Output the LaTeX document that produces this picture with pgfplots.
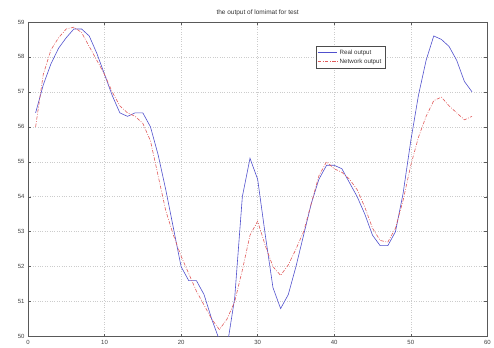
\documentclass[border=0pt]{standalone}
\usepackage{fontspec}
\setmainfont{Liberation Sans}
\usepackage{pgfplots}
\pgfplotsset{compat=1.18}
\definecolor{realblue}{RGB}{80,80,205}
\definecolor{netred}{RGB}{225,90,90}
\begin{document}
\begin{tikzpicture}
\begin{axis}[
  scale only axis,
  width=460pt, height=315pt,
  xmin=0, xmax=60, ymin=50, ymax=59,
  xtick={0,10,...,60}, ytick={50,51,...,59},
  grid=major,
  major grid style={gray!40, dotted, line width=0.5pt},
  axis line style={black!65, line width=0.5pt},
  tick style={black!65, line width=0.4pt},
  tick align=inside, major tick length=3pt,
  xtick pos=both, ytick pos=both,
  tick label style={font=\fontsize{6}{7}\selectfont, text=black!75},
  /pgf/number format/assume math mode=true,
  title={\fontsize{6.5}{7.5}\selectfont the output of lomimat for test},
  title style={yshift=-3pt, text=black!80},
  clip=true,
  legend style={at={(rel axis cs:0.626,0.924)}, anchor=north west,
    font=\fontsize{6.2}{7}\selectfont, draw=black!70, line width=0.4pt,
    inner sep=1.5pt, row sep=-1pt, text=black!80},
  legend cell align=left,
  legend image code/.code={\draw[#1] (0cm,0cm) -- (0.7cm,0cm);},
]
\addplot[realblue, line width=0.6pt] coordinates {
(1,56.4)(2,57.2)(3,57.8)(4,58.25)(5,58.55)(6,58.8)(7,58.8)(8,58.6)(9,58.1)(10,57.5)
(11,56.9)(12,56.4)(13,56.3)(14,56.4)(15,56.4)(16,56.0)(17,55.2)(18,54.2)(19,53.1)(20,52.0)
(21,51.6)(22,51.6)(23,51.2)(24,50.5)(25,49.9)(26,49.7)(27,51.1)(28,54.0)(29,55.1)(30,54.5)
(31,52.9)(32,51.4)(33,50.8)(34,51.2)(35,52.0)(36,52.9)(37,53.8)(38,54.5)(39,54.9)(40,54.9)
(41,54.8)(42,54.4)(43,54.0)(44,53.5)(45,52.9)(46,52.6)(47,52.6)(48,53.0)(49,54.1)(50,55.6)
(51,56.9)(52,57.9)(53,58.6)(54,58.5)(55,58.3)(56,57.9)(57,57.3)(58,57.0)
};
\addlegendentry{Real output}
\addplot[netred, line width=0.6pt, dash pattern=on 3.5pt off 1.5pt on 0.8pt off 1.5pt] coordinates {
(1,56.0)(2,57.5)(3,58.2)(4,58.55)(5,58.8)(6,58.85)(7,58.7)(8,58.3)(9,57.9)(10,57.5)
(11,57.0)(12,56.6)(13,56.4)(14,56.3)(15,56.1)(16,55.6)(17,54.6)(18,53.6)(19,52.9)(20,52.3)
(21,51.8)(22,51.3)(23,50.9)(24,50.5)(25,50.2)(26,50.5)(27,51.0)(28,51.9)(29,52.9)(30,53.3)
(31,52.6)(32,52.0)(33,51.75)(34,52.05)(35,52.5)(36,53.0)(37,53.8)(38,54.6)(39,55.0)(40,54.8)
(41,54.7)(42,54.5)(43,54.2)(44,53.7)(45,53.1)(46,52.75)(47,52.7)(48,53.1)(49,53.9)(50,54.9)
(51,55.7)(52,56.3)(53,56.75)(54,56.85)(55,56.6)(56,56.4)(57,56.2)(58,56.3)
};
\addlegendentry{Network output}
\end{axis}
\path ([shift={(-28pt,-10pt)}]current axis.south west) rectangle ([shift={(6pt,22pt)}]current axis.north east);
\end{tikzpicture}
\end{document}
